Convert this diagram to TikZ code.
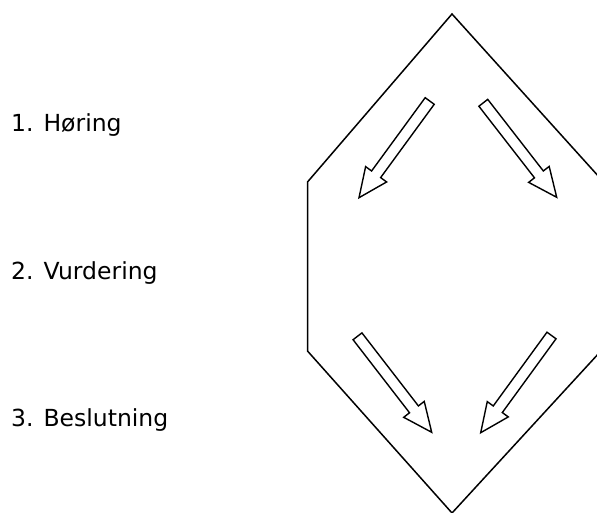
\documentclass[tikz,border=0pt]{standalone}
\usepackage{fontspec}
\newfontfamily\labelfont{DejaVu Sans}
\usetikzlibrary{calc}

% outlined block arrow from (#1-tail) to (#1-tip)
\newcommand{\shaftw}{5.6pt}
\newcommand{\headw}{13pt}
\newcommand{\headlen}{29pt}
\newcommand{\blockarrow}[1]{%
  \coordinate (#1-neck) at ($(#1-tip)!\headlen!(#1-tail)$);
  \draw[blockarrow] ($(#1-tail)!\shaftw!90:(#1-tip)$)
    -- ($(#1-neck)!\shaftw!90:(#1-tip)$)
    -- ($(#1-neck)!\headw!90:(#1-tip)$)
    -- (#1-tip)
    -- ($(#1-neck)!\headw!-90:(#1-tip)$)
    -- ($(#1-neck)!\shaftw!-90:(#1-tip)$)
    -- ($(#1-tail)!\shaftw!-90:(#1-tip)$) -- cycle;}

\begin{document}
\begin{tikzpicture}[x=1pt, y=-1pt]
  \tikzset{outline/.style={black, line width=1.5pt, line join=miter}}
  \tikzset{blockarrow/.style={outline, line width=1.4pt, fill=white}}
  \tikzset{step label/.style={anchor=base west, inner sep=0pt,
      font=\labelfont\fontsize{23.5}{28}\selectfont}}
  \useasboundingbox (0, 0) rectangle (597, 513);
  \clip (0, 0) rectangle (597, 513);
  % the hexagon
  \coordinate (top) at (452, 14);
  \coordinate (upleft) at (307.5, 182);
  \coordinate (lowleft) at (307.5, 351);
  \coordinate (bottom) at (452, 513);
  \coordinate (lowright) at (600, 352);
  \coordinate (upright) at (600, 178);
  \draw[outline] (top) -- (upleft) -- (lowleft) -- (bottom)
    -- (lowright) -- (upright) -- cycle;
  % the four arrows
  \coordinate (ul-tail) at (429.7, 101);
  \coordinate (ul-tip) at (359, 197.7);
  \coordinate (ur-tail) at (483.3, 102.8);
  \coordinate (ur-tip) at (556.7, 197.3);
  \coordinate (ll-tail) at (357.5, 336.3);
  \coordinate (ll-tip) at (431.7, 432.3);
  \coordinate (lr-tail) at (551.5, 335.5);
  \coordinate (lr-tip) at (480.7, 432.7);
  \blockarrow{ul}
  \blockarrow{ur}
  \blockarrow{ll}
  \blockarrow{lr}
  % the steps
  \node[step label] (hoering) at (11, 132) {1. Høring};
  \node[step label] (vurdering) at (11, 279) {2. Vurdering};
  \node[step label] (beslutning) at (11, 426) {3. Beslutning};
\end{tikzpicture}
\end{document}
